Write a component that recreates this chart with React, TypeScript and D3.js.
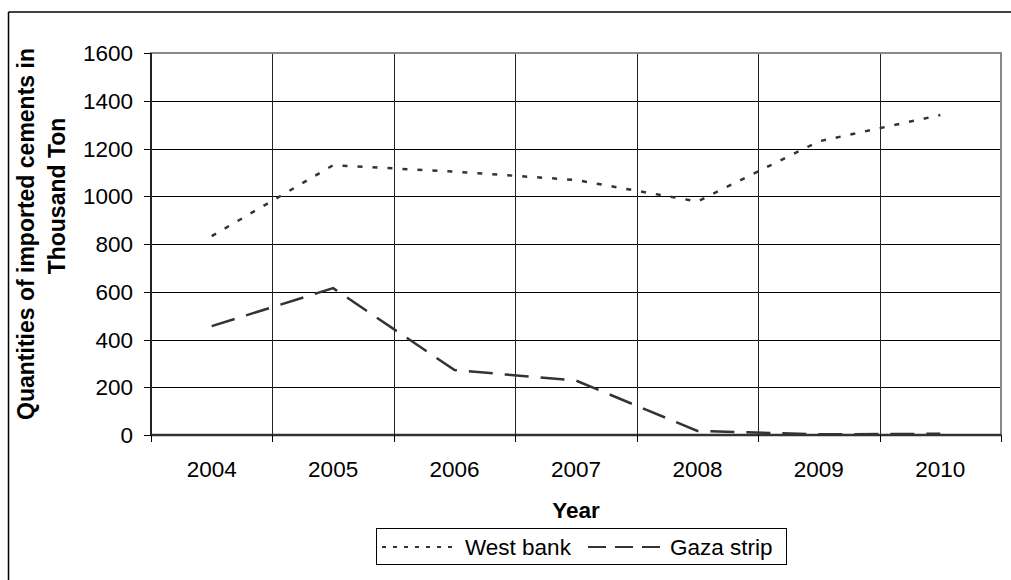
import React from "react";
import * as d3 from "d3";

const years = ["2004", "2005", "2006", "2007", "2008", "2009", "2010"];
const westBank = [833, 1130, 1103, 1068, 978, 1230, 1340];
const gazaStrip = [456, 615, 272, 228, 17, 3, 5];
const yTicks = [0, 200, 400, 600, 800, 1000, 1200, 1400, 1600];

const W = 1011;
const H = 580;
const left = 151;
const right = 1001;
const top = 53;
const bottom = 435;
const FONT = "Arial, 'Liberation Sans', sans-serif";
const FS = 22.5;

export default function App() {
  const x = d3.scaleBand<string>().domain(years).range([left, right]).padding(0);
  const y = d3.scaleLinear().domain([0, 1600]).range([bottom, top]);
  const cx = (d: string) => (x(d) as number) + x.bandwidth() / 2;

  const line = d3
    .line<number>()
    .x((_, i) => cx(years[i]))
    .y((v) => y(v));

  const boundaries = d3.range(years.length + 1).map((i) => left + i * x.bandwidth());

  return (
    <svg
      width={W}
      height={H}
      style={{ position: "absolute", left: 0, top: 0, background: "#fff" }}
      fontFamily={FONT}
    >
      <rect x={0} y={0} width={W} height={H} fill="#fff" />
      {/* outer frame (top and left only visible) */}
      <line x1={8.5} y1={12} x2={W} y2={12} stroke="#000" strokeWidth={1.5} />
      <line x1={8.5} y1={12} x2={8.5} y2={H} stroke="#000" strokeWidth={1.5} />

      {/* horizontal gridlines */}
      {yTicks.map((t) => (
        <line key={"h" + t} x1={left} x2={right} y1={Math.round(y(t)) + 0.5} y2={Math.round(y(t)) + 0.5} stroke="#000" strokeWidth={1} />
      ))}
      {/* vertical gridlines */}
      {boundaries.slice(1, -1).map((b, i) => (
        <line key={"v" + i} x1={Math.round(b) + 0.5} x2={Math.round(b) + 0.5} y1={top} y2={bottom} stroke="#222" strokeWidth={1} />
      ))}
      {/* plot border */}
      <rect x={left} y={top} width={right - left} height={bottom - top} fill="none" stroke="#888" strokeWidth={2} />
      {/* y axis */}
      <line x1={left} x2={left} y1={top} y2={bottom} stroke="#000" strokeWidth={1.5} />
      {yTicks.map((t) => (
        <line key={"yt" + t} x1={left - 7} x2={left} y1={Math.round(y(t)) + 0.5} y2={Math.round(y(t)) + 0.5} stroke="#000" strokeWidth={1} />
      ))}
      {yTicks.map((t) => (
        <text key={"yl" + t} x={133} y={y(t)} dy="0.36em" textAnchor="end" fontSize={FS} fill="#000">
          {t}
        </text>
      ))}
      {/* x axis */}
      <line x1={left} x2={right} y1={bottom} y2={bottom} stroke="#333" strokeWidth={2.5} />
      {boundaries.map((b, i) => (
        <line key={"xt" + i} x1={Math.round(b) + 0.5} x2={Math.round(b) + 0.5} y1={bottom} y2={bottom + 7} stroke="#000" strokeWidth={1} />
      ))}
      {years.map((yr) => (
        <text key={"xl" + yr} x={cx(yr)} y={477} textAnchor="middle" fontSize={FS} fill="#000">
          {yr}
        </text>
      ))}

      {/* series */}
      <path d={line(westBank) || ""} fill="none" stroke="#333" strokeWidth={2.5} strokeDasharray="5,10" />
      <path d={line(gazaStrip) || ""} fill="none" stroke="#333" strokeWidth={2.5} strokeDasharray="24,12" />

      {/* axis titles */}
      <text x={576} y={518} textAnchor="middle" fontSize={FS} fontWeight="bold" fill="#000">
        Year
      </text>
      <text transform="translate(34,234) rotate(-90)" textAnchor="middle" fontSize={23} fontWeight="bold" fill="#000">
        Quantities of imported cements in
      </text>
      <text transform="translate(65,196) rotate(-90)" textAnchor="middle" fontSize={23} fontWeight="bold" fill="#000">
        Thousand Ton
      </text>

      {/* legend */}
      <rect x={376.5} y={528.5} width={410} height={36} fill="#fff" stroke="#000" strokeWidth={1} />
      <line x1={382} x2={452} y1={547} y2={547} stroke="#333" strokeWidth={2} strokeDasharray="4,7" />
      <text x={465} y={555} fontSize={FS} fill="#000">West bank</text>
      <line x1={588} x2={662} y1={547} y2={547} stroke="#333" strokeWidth={2} strokeDasharray="18,9" />
      <text x={670} y={555} fontSize={FS} fill="#000">Gaza strip</text>
    </svg>
  );
}
